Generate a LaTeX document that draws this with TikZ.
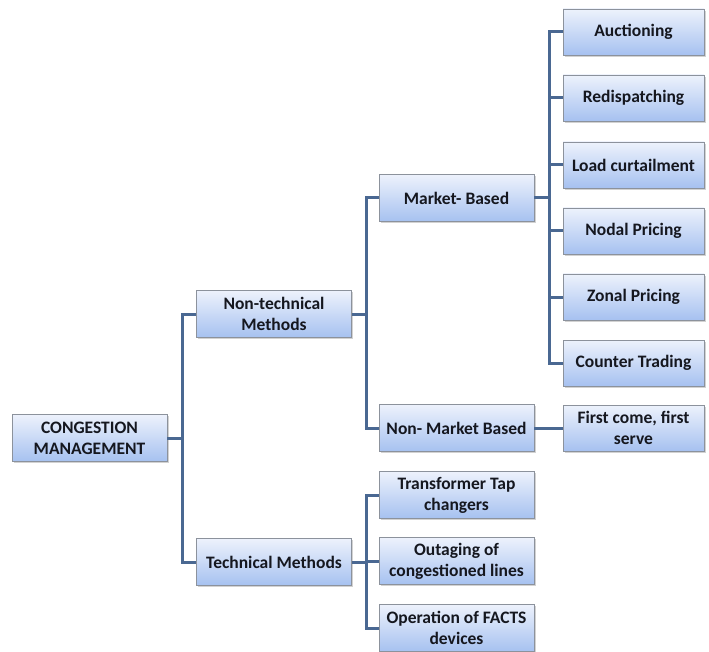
\documentclass[tikz,border=0pt]{standalone}
\usepackage{fontspec}
\setmainfont{Carlito}
\usetikzlibrary{shadows}
\definecolor{boxtop}{HTML}{EDF2FC}
\definecolor{boxbot}{HTML}{A6C1F0}
\definecolor{boxedge}{HTML}{8C929C}
\definecolor{linkcol}{HTML}{4A6892}
\definecolor{inkcol}{HTML}{15171F}
\tikzset{
  box/.style={rectangle, draw=boxedge, line width=0.8pt,
    top color=boxtop, bottom color=boxbot,
    text=inkcol, font=\fontsize{17.5}{21}\selectfont\bfseries,
    align=center, inner sep=1pt,
    drop shadow={opacity=0.35, shadow xshift=1.5pt, shadow yshift=-1.8pt}},
  midbox/.style={box, minimum width=155pt, minimum height=47pt},
  leafbox/.style={box, minimum width=141pt, minimum height=46pt},
  link/.style={draw=linkcol, line width=3pt, line join=miter}
}
\begin{document}
\begin{tikzpicture}[x=1pt, y=-1pt]
\useasboundingbox[fill=white] (0,0) rectangle (709,652);

% root and first level
\node[midbox] (root) at (89.5,438) {CONGESTION\\MANAGEMENT};
\node[midbox] (nontech) at (274,314) {Non-technical\\Methods};
\node[midbox] (tech) at (274,562) {Technical Methods};

% second level
\node[midbox] (market) at (456.5,198) {Market- Based};
\node[midbox] (nonmarket) at (456.5,428) {Non- Market Based};
\node[midbox] (tap) at (456.5,495) {Transformer Tap\\changers};
\node[midbox] (outage) at (456.5,561) {Outaging of\\congestioned lines};
\node[midbox] (facts) at (456.5,628) {Operation of FACTS\\devices};

% market-based leaves
\node[leafbox] (auction) at (633.5,32) {Auctioning};
\node[leafbox] (redisp) at (633.5,98) {Redispatching};
\node[leafbox] (load) at (633.5,165) {Load curtailment};
\node[leafbox] (nodal) at (633.5,231) {Nodal Pricing};
\node[leafbox] (zonal) at (633.5,297) {Zonal Pricing};
\node[leafbox] (counter) at (633.5,363) {Counter Trading};
\node[leafbox] (fcfs) at (633.5,428) {First come, first\\serve};

% bus junctions
\coordinate (busA) at (182,438);
\coordinate (busB) at (366,314);
\coordinate (busC) at (549,198);
\coordinate (busD) at (366,562);

% connectors
\draw[link] (nontech.west) -| (busA) |- (tech.west);
\draw[link] (root.east) -- (busA);

\draw[link] (market.west) -| (busB) |- (nonmarket.west);
\draw[link] (nontech.east) -- (busB);

\draw[link] (auction.west) -| (busC) |- (counter.west);
\draw[link] (market.east) -- (busC);
\draw[link] (redisp.west) -- (redisp.west -| busC);
\draw[link] (load.west) -- (load.west -| busC);
\draw[link] (nodal.west) -- (nodal.west -| busC);
\draw[link] (zonal.west) -- (zonal.west -| busC);

\draw[link] (nonmarket.east) -- (fcfs.west);

\draw[link] (tap.west) -| (busD) |- (facts.west);
\draw[link] (tech.east) -- (busD);
\draw[link] (outage.west) -- (outage.west -| busD);
\end{tikzpicture}
\end{document}
